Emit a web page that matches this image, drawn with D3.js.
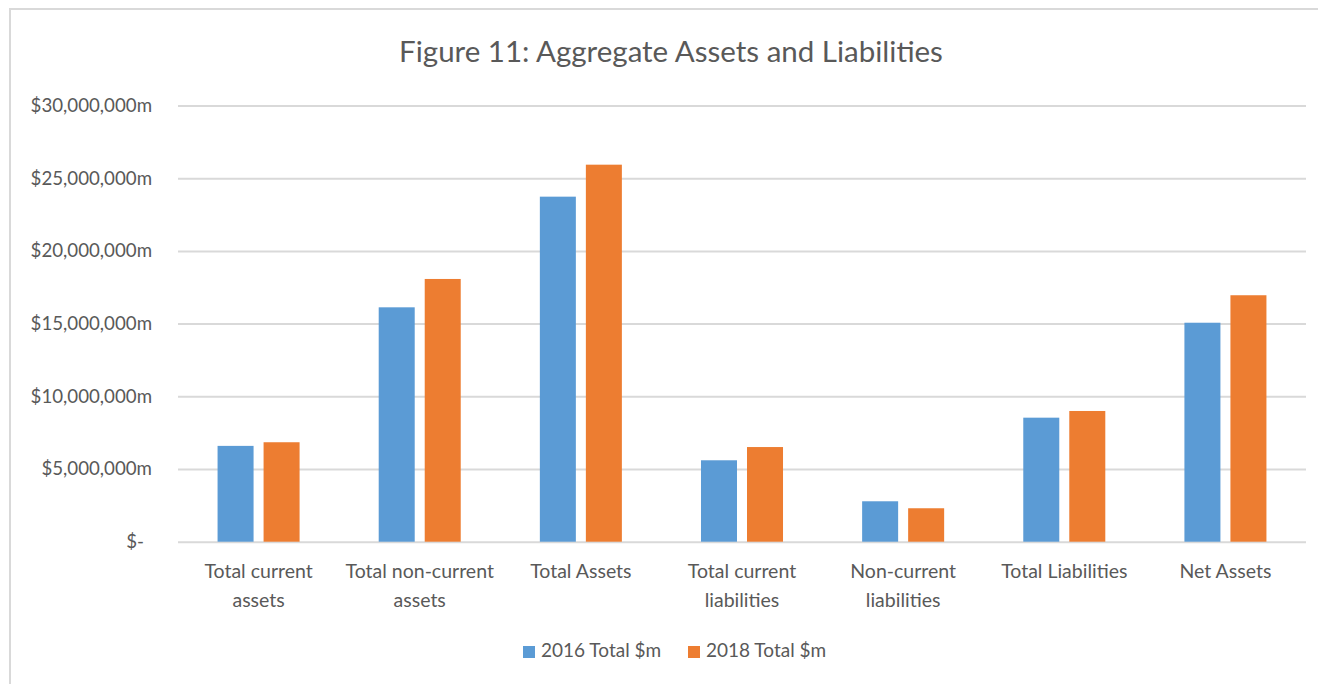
<!DOCTYPE html>
<html><head><meta charset="utf-8">
<script src="https://cdn.jsdelivr.net/npm/d3@7"></script>
<style>
html,body{margin:0;padding:0;background:#fff;overflow:hidden;}
svg{display:block;font-family:Lato,"Open Sans",sans-serif;}
</style></head>
<body>
<svg id="c" width="1318" height="684"></svg>
<script>
const title = "Figure 11: Aggregate Assets and Liabilities";
const categories = [
  ["Total current","assets"],
  ["Total non-current","assets"],
  ["Total Assets"],
  ["Total current","liabilities"],
  ["Non-current","liabilities"],
  ["Total Liabilities"],
  ["Net Assets"]
];
const seriesNames = ["2016 Total $m","2018 Total $m"];
const values2016 = [6590000, 16120000, 23730000, 5600000, 2780000, 8530000, 15060000];
const values2018 = [6840000, 18070000, 25930000, 6510000, 2300000, 8990000, 16950000];
const yTicks = [0, 5000000, 10000000, 15000000, 20000000, 25000000, 30000000];
const colors = ["#5B9BD5", "#ED7D31"];

const svg = d3.select("#c");
const plot = {left:178, right:1306, top:105.5, bottom:541.7};

// chart border (only top/left visible in the picture)
svg.append("line").attr("x1",9).attr("x2",1318).attr("y1",9).attr("y2",9)
  .attr("stroke","#d9d9d9").attr("stroke-width",2);
svg.append("line").attr("x1",10).attr("x2",10).attr("y1",8).attr("y2",684)
  .attr("stroke","#d9d9d9").attr("stroke-width",2);

svg.append("text").attr("x",671).attr("y",55).attr("text-anchor","middle")
  .attr("dominant-baseline","middle").attr("font-size",29.5).attr("fill","#595959").text(title);

const catKeys = categories.map(c=>c.join(" "));
const x0 = d3.scaleBand().domain(catKeys).range([plot.left, plot.right]).paddingInner(0.491).paddingOuter(0.2455);
const x1 = d3.scaleBand().domain(seriesNames).range([0, x0.bandwidth()]).paddingInner(10/46);
const y = d3.scaleLinear().domain([0,30000000]).range([plot.bottom, plot.top]);

// gridlines + tick labels
const yAxis = d3.axisLeft(y).tickValues(yTicks).tickSize(-(plot.right-plot.left)).tickPadding(26)
  .tickFormat(d => d===0 ? "$-" : "$" + d3.format(",")(d) + "m");
const ga = svg.append("g").attr("transform",`translate(${plot.left},0)`).call(yAxis);
ga.select(".domain").remove();
ga.selectAll(".tick line").attr("stroke","#d9d9d9").attr("stroke-width",2);
ga.selectAll(".tick text").attr("fill","#595959").attr("font-size",18.7).attr("font-family","Lato, sans-serif")
  .attr("dx", d => d===0 ? -8 : 0);

// bars
const data = catKeys.map((k,i)=>({k, vals:[values2016[i], values2018[i]]}));
const groups = svg.append("g").selectAll("g").data(data).join("g")
  .attr("transform", d=>`translate(${x0(d.k)},0)`);
groups.selectAll("rect").data(d=>d.vals.map((v,j)=>({v, s:seriesNames[j], j}))).join("rect")
  .attr("x", d=>x1(d.s)).attr("width", x1.bandwidth())
  .attr("y", d=>y(d.v)).attr("height", d=>y(0)-y(d.v))
  .attr("fill", d=>colors[d.j]);

// x labels
const xl = svg.append("g");
categories.forEach((lines,i)=>{
  const cx = x0(catKeys[i]) + x0.bandwidth()/2;
  lines.forEach((ln,li)=>{
    xl.append("text").attr("x",cx).attr("y",573 + li*29).attr("text-anchor","middle")
      .attr("dominant-baseline","middle").attr("font-size",19.5).attr("fill","#595959").text(ln);
  });
});

// legend
const legX = [523, 688];
seriesNames.forEach((s,i)=>{
  svg.append("rect").attr("x",legX[i]).attr("y",646).attr("width",12).attr("height",12).attr("fill",colors[i]);
  svg.append("text").attr("x",legX[i]+18).attr("y",652).attr("dominant-baseline","middle")
    .attr("font-size",19).attr("fill","#595959").text(s);
});
</script>
</body></html>
